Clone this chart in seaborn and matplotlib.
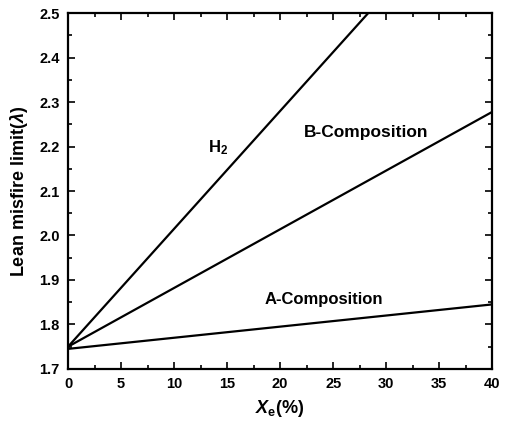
import matplotlib
matplotlib.use("Agg")
import matplotlib.pyplot as plt
import seaborn as sns
import pandas as pd
from matplotlib.ticker import MultipleLocator

# Data
x_vals = [0, 40]
a_comp = [1.745, 1.845]
b_comp = [1.750, 2.278]
h2_x = [0, 28.3]
h2_vals = [1.750, 2.500]

sns.set_theme(style="ticks")
plt.rcParams['font.family'] = ['Liberation Sans', 'DejaVu Sans']
plt.rcParams['font.weight'] = 'bold'
plt.rcParams['text.color'] = 'black'
plt.rcParams['axes.labelcolor'] = 'black'
plt.rcParams['xtick.color'] = 'black'
plt.rcParams['ytick.color'] = 'black'
plt.rcParams['mathtext.fontset'] = 'custom'
plt.rcParams['mathtext.it'] = 'Liberation Sans:italic:bold'
plt.rcParams['mathtext.rm'] = 'Liberation Sans:bold'

df = pd.concat([
    pd.DataFrame({"x": x_vals, "y": a_comp, "series": "A"}),
    pd.DataFrame({"x": x_vals, "y": b_comp, "series": "B"}),
    pd.DataFrame({"x": h2_x, "y": h2_vals, "series": "H2"}),
])

fig = plt.figure(figsize=(5.08, 4.24), dpi=100)
ax = fig.add_axes([0.134, 0.130, 0.835, 0.839])
sns.lineplot(data=df, x="x", y="y", units="series", estimator=None,
             color="black", linewidth=1.6, ax=ax, legend=False)

ax.set_xlim(0, 40)
ax.set_ylim(1.7, 2.5)
ax.xaxis.set_major_locator(MultipleLocator(5))
ax.xaxis.set_minor_locator(MultipleLocator(2.5))
ax.yaxis.set_major_locator(MultipleLocator(0.1))
ax.yaxis.set_minor_locator(MultipleLocator(0.05))
ax.yaxis.set_major_formatter(matplotlib.ticker.FormatStrFormatter('%.1f'))
ax.tick_params(which='both', direction='in', top=True, right=True, color='black', width=1.2)
ax.tick_params(which='major', length=5, labelsize=10.5, pad=6)
ax.tick_params(which='minor', length=3)
for lab in ax.get_xticklabels() + ax.get_yticklabels():
    lab.set_fontweight('bold')
for s in ax.spines.values():
    s.set_linewidth(1.6)
    s.set_color('black')

ax.set_xlabel(r"$X_{\mathrm{e}}$(%)", fontsize=13, fontweight='bold', labelpad=5)
ax.set_ylabel(r"Lean misfire limit($\lambda$)", fontsize=13, fontweight='bold', labelpad=7)

ax.text(14.1, 2.197, r"H$_2$", fontsize=12, fontweight='bold', ha='center', va='center')
ax.text(28.1, 2.232, "B-Composition", fontsize=12.5, fontweight='bold', ha='center', va='center')
ax.text(24.1, 1.857, "A-Composition", fontsize=12, fontweight='bold', ha='center', va='center')

fig.savefig("out.png", dpi=100, facecolor='white')
